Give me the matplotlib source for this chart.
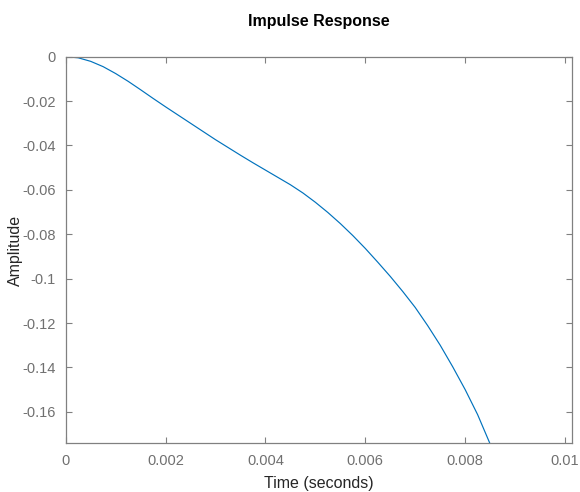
import matplotlib
matplotlib.use("Agg")
import matplotlib.pyplot as plt

# impulse response (seconds, amplitude)
t = [0.0, 0.00025, 0.0005, 0.00075, 0.001, 0.00125, 0.0015, 0.00175,
     0.002, 0.00225, 0.0025, 0.00275, 0.003, 0.00325, 0.0035, 0.00375,
     0.004, 0.00425, 0.0045, 0.00475, 0.005, 0.00525, 0.0055, 0.00575,
     0.006, 0.00625, 0.0065, 0.00675, 0.007, 0.00725, 0.0075, 0.00775,
     0.008, 0.00825, 0.0085]
amp = [0.0, -0.0005, -0.0021, -0.0045, -0.0076, -0.0111, -0.0149, -0.0188,
       -0.0226, -0.0263, -0.0300, -0.0337, -0.0374, -0.0409, -0.0444, -0.0478,
       -0.0511, -0.0544, -0.0577, -0.0614, -0.0656, -0.0702, -0.0752, -0.0806,
       -0.0864, -0.0926, -0.0990, -0.1058, -0.1130, -0.1212, -0.1300, -0.1397,
       -0.1500, -0.1613, -0.1745]

xticks = [0, 0.002, 0.004, 0.006, 0.008, 0.01]
xticklabels = ["0", "0.002", "0.004", "0.006", "0.008", "0.01"]
yticks = [0, -0.02, -0.04, -0.06, -0.08, -0.1, -0.12, -0.14, -0.16]
yticklabels = ["0", "-0.02", "-0.04", "-0.06", "-0.08", "-0.1", "-0.12", "-0.14", "-0.16"]

plt.rcParams['font.family'] = ['Liberation Sans', 'DejaVu Sans']

fig = plt.figure(figsize=(5.8, 4.92), dpi=100)
ax = fig.add_axes([0.1133, 0.099, 0.8724, 0.7858])

ax.plot(t, amp, color='#0072BD', linewidth=0.85)

ax.set_xlim(0, 0.010134)
ax.set_ylim(-0.1742, 0)
ax.set_xticks(xticks)
ax.set_xticklabels(xticklabels)
ax.set_yticks(yticks)
ax.set_yticklabels(yticklabels)

for s in ax.spines.values():
    s.set_color('#808080')
    s.set_linewidth(0.9)
ax.tick_params(direction='in', length=4, width=0.8, color='#808080',
               labelcolor='#707070', labelsize=10.5, top=True, right=True)
ax.tick_params(axis='x', pad=8)
ax.tick_params(axis='y', pad=7)

ax.set_xlabel("Time (seconds)", fontsize=11.5, color='#262626', labelpad=5.5)
ax.set_ylabel("Amplitude", fontsize=11.5, color='#262626')
ax.yaxis.set_label_coords(-0.085, 0.5)
ax.set_title("Impulse Response", fontsize=11.5, fontweight='bold', pad=22)

fig.savefig("out.png", dpi=100)
